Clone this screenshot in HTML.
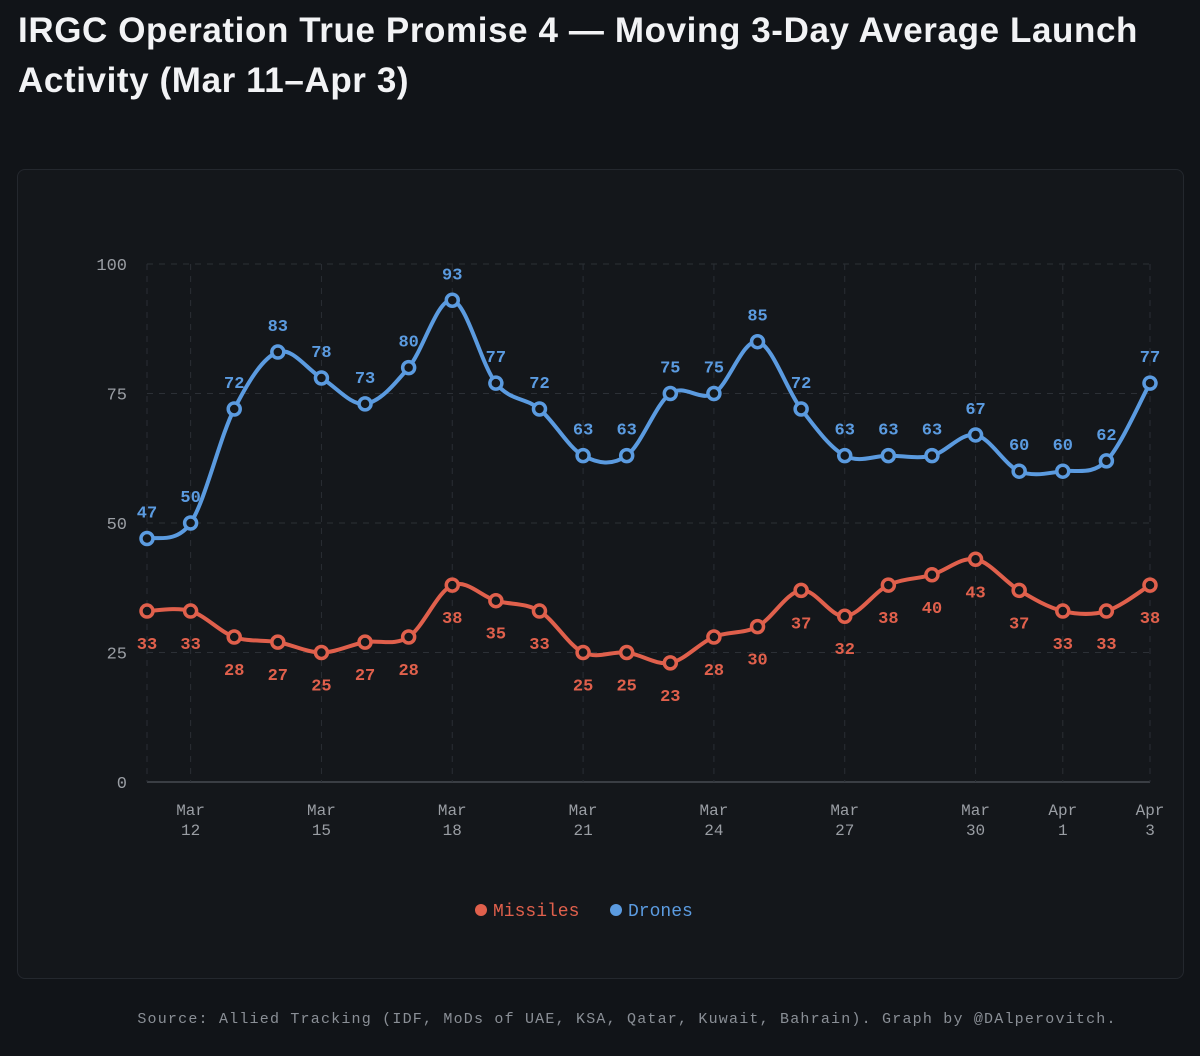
<!DOCTYPE html>
<html><head><meta charset="utf-8"><style>
body{margin:0;width:1200px;height:1056px;background:#111418;overflow:hidden;font-family:"Liberation Sans",sans-serif}
h1{position:absolute;left:18px;top:6px;margin:0;color:#f2f3f5;font-size:35px;line-height:50px;font-weight:bold;width:1170px;letter-spacing:0.6px}
#panel{position:absolute;left:17px;top:169px;width:1165px;height:808px;background:#14171b;border:1px solid #24282e;border-radius:8px}
#src{position:absolute;left:100px;width:1054px;top:1011px;text-align:center;color:#8a8f96;font:15px "Liberation Mono",monospace;letter-spacing:1.2px;white-space:nowrap}
svg{position:absolute;left:0;top:0}
</style></head><body>
<h1>IRGC Operation True Promise 4 — Moving 3-Day Average Launch Activity (Mar 11–Apr 3)</h1>
<div id="panel"></div>
<svg id="chart" width="1200" height="1056"></svg>
<div id="src">Source: Allied Tracking (IDF, MoDs of UAE, KSA, Qatar, Kuwait, Bahrain). Graph by @DAlperovitch.</div>
<script>
const days=["Mar 11","Mar 12","Mar 13","Mar 14","Mar 15","Mar 16","Mar 17","Mar 18","Mar 19","Mar 20","Mar 21","Mar 22","Mar 23","Mar 24","Mar 25","Mar 26","Mar 27","Mar 28","Mar 29","Mar 30","Mar 31","Apr 1","Apr 2","Apr 3"];
const drones=[47,50,72,83,78,73,80,93,77,72,63,63,75,75,85,72,63,63,63,67,60,60,62,77];
const missiles=[33,33,28,27,25,27,28,38,35,33,25,25,23,28,30,37,32,38,40,43,37,33,33,38];
const yTicks=[0,25,50,75,100];
const xTickIdx=[1,4,7,10,13,16,19,21,23];
const NS="http://www.w3.org/2000/svg",svg=document.getElementById('chart');
const X0=147,X1=1150,Y0=782,Y1=264;
const x=i=>X0+(X1-X0)*i/(days.length-1);
const y=v=>Y0-(Y0-Y1)*v/100;
function el(t,a,p){const e=document.createElementNS(NS,t);for(const k in a)e.setAttribute(k,a[k]);(p||svg).appendChild(e);return e;}
const mono='"Liberation Mono",monospace';
yTicks.forEach(t=>{
  const l=el('line',{x1:X0,x2:X1,y1:y(t),y2:y(t),stroke:t?'#2c3036':'#3a3e44','stroke-width':t?1:2,'stroke-dasharray':t?'6 6':'none'});
  
  
  const tx=el('text',{x:127,y:y(t)+6,'text-anchor':'end',fill:'#9a9ea4','font-size':17,'font-family':mono});
  tx.textContent=t;
  
  
});
[0].concat(xTickIdx).forEach(i=>{
  const l=el('line',{x1:x(i),x2:x(i),y1:Y1,y2:Y0,stroke:'#2a2e34','stroke-dasharray':'6 6'});
  
  
});
xTickIdx.forEach(i=>{
  const p=days[i].split(' ');
  const t=el('text',{x:x(i),y:815,'text-anchor':'middle',fill:'#9a9ea4','font-size':16,'font-family':mono});
  t.textContent=p[0];
  
  
  const t2=el('text',{x:x(i),y:835,'text-anchor':'middle',fill:'#9a9ea4','font-size':16,'font-family':mono});
  t2.textContent=p[1];
  
  
});
function path(vals){
  const P=vals.map((v,i)=>[x(i),y(v)]);let d='M'+P[0];
  for(let i=0;i<P.length-1;i++){
    const p0=P[Math.max(0,i-1)],p1=P[i],p2=P[i+1],p3=P[Math.min(P.length-1,i+2)];
    const c1=[p1[0]+(p2[0]-p0[0])/6,p1[1]+(p2[1]-p0[1])/6],c2=[p2[0]-(p3[0]-p1[0])/6,p2[1]-(p3[1]-p1[1])/6];
    d+=' C'+c1+' '+c2+' '+p2;
  }return d;
}
function series(vals,col,name,above){
  const p=el('path',{d:path(vals),fill:'none',stroke:col,'stroke-width':4,'stroke-linejoin':'round'});
  
  
  vals.forEach((v,i)=>{
    const c=el('circle',{cx:x(i),cy:y(v),r:6,fill:'#14171b',stroke:col,'stroke-width':3.5});
    
    
    const t=el('text',{x:x(i),y:above?y(v)-21:y(v)+38,'text-anchor':'middle',fill:col,'font-size':17,'font-weight':'bold','font-family':mono});
    t.textContent=v;
    
    
  });
}
series(drones,'#5b9be0','drones',true);
series(missiles,'#e0604c','missiles',false);
const lg=[['Missiles','#e0604c',475],['Drones','#5b9be0',610]];
lg.forEach(([n,c,lx])=>{
  const g=el('g',{});
  
  
  el('circle',{cx:lx+6,cy:910,r:6,fill:c},g);
  const t=el('text',{x:lx+18,y:916,fill:c,'font-size':18,'font-family':mono},g);t.textContent=n;
});
</script>
</body></html>
